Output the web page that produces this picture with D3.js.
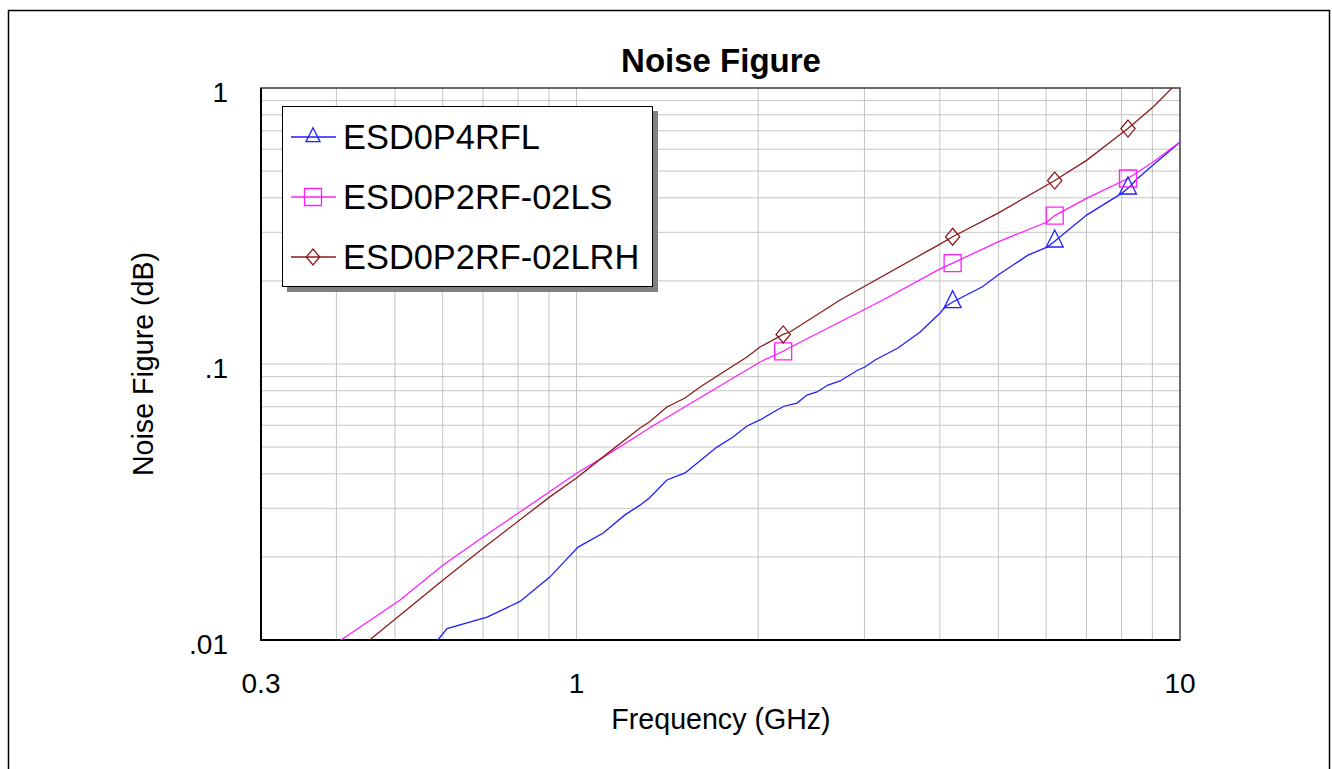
<!DOCTYPE html>
<html>
<head>
<meta charset="utf-8">
<script src="https://cdn.jsdelivr.net/npm/d3@7"></script>
<style>
  body { margin: 0; background: #fff; }
  svg text { font-family: "Liberation Sans", Arial, sans-serif; fill: #000; }
</style>
</head>
<body>
<svg id="chart" width="1332" height="769"></svg>
<script>
// series names / colours
var seriesNames = ["ESD0P4RFL", "ESD0P2RF-02LS", "ESD0P2RF-02LRH"];
var seriesColors = ["#1f1fff", "#ff1fff", "#8c1c1c"];
var seriesShapes = ["triangle", "square", "diamond"];

// frequency (GHz), noise figure (dB)
var esd0p4rflF = [0.589, 0.61, 0.711, 0.806, 0.903, 1.006, 1.107, 1.203, 1.274, 1.32, 1.412, 1.513, 1.709, 1.817, 1.916, 2.014, 2.149, 2.207, 2.319, 2.409, 2.503, 2.61, 2.733, 2.927, 3.006, 3.124, 3.409, 3.71, 4.003, 4.08, 4.2, 4.698, 4.995, 5.599, 6.021, 6.2, 7.011, 8.016, 8.2, 8.486, 9.024, 10];
var esd0p4rflV = [0.0100, 0.0110, 0.0121, 0.0138, 0.0169, 0.0217, 0.0244, 0.0284, 0.0308, 0.0327, 0.0380, 0.0403, 0.0500, 0.0544, 0.0596, 0.0627, 0.0681, 0.0703, 0.0722, 0.0772, 0.0792, 0.0839, 0.0868, 0.0951, 0.0975, 0.1034, 0.1143, 0.1306, 0.153, 0.1609, 0.1677, 0.190, 0.210, 0.248, 0.265, 0.2783, 0.347, 0.416, 0.433, 0.468, 0.526, 0.637];

var esd0p2lsF = [0.407, 0.51, 0.601, 0.7, 1.002, 1.102, 1.274, 1.32, 2.014, 2.2, 2.232, 3.219, 4.003, 4.2, 4.995, 6.021, 6.2, 7.011, 8.2, 9.024, 10];
var esd0p2lsV = [0.0100, 0.01396, 0.0187, 0.0236, 0.0403, 0.0456, 0.0558, 0.0586, 0.1017, 0.1112, 0.1133, 0.1705, 0.221, 0.232, 0.277, 0.327, 0.345, 0.399, 0.470, 0.539, 0.637];

var esd0p2lrhF = [0.454, 0.601, 0.7, 0.903, 1.0, 1.10, 1.274, 1.32, 1.412, 1.513, 1.602, 1.916, 2.014, 2.2, 2.258, 2.733, 4.003, 4.2, 4.995, 6.021, 6.2, 7.011, 8.016, 8.2, 9.024, 9.737];
var esd0p2lrhV = [0.0100, 0.0165, 0.0215, 0.0330, 0.0386, 0.0456, 0.0586, 0.0616, 0.0699, 0.0753, 0.0825, 0.1060, 0.1152, 0.1280, 0.1306, 0.1705, 0.272, 0.289, 0.352, 0.445, 0.462, 0.548, 0.687, 0.713, 0.853, 1.008];

// marker positions (every 2 GHz)
var markerF = [2.2, 4.2, 6.2, 8.2];

var xTicks = [0.3, 1, 10];
var xTickLabels = ["0.3", "1", "10"];
var yTicks = [1, 0.1, 0.01];
var yTickLabels = ["1", ".1", ".01"];
var xGrid = [0.4, 0.5, 0.6, 0.7, 0.8, 0.9, 1, 2, 3, 4, 5, 6, 7, 8, 9];
var yGrid = [0.02, 0.03, 0.04, 0.05, 0.06, 0.07, 0.08, 0.09, 0.1, 0.2, 0.3, 0.4, 0.5, 0.6, 0.7, 0.8, 0.9];

var allF = [esd0p4rflF, esd0p2lsF, esd0p2lrhF];
var allV = [esd0p4rflV, esd0p2lsV, esd0p2lrhV];

var svg = d3.select("#chart");
var L = 261, R = 1180, T = 88, B = 640;

var x = d3.scaleLog().domain([0.3, 10]).range([L, R]);
var y = d3.scaleLog().domain([0.01, 1]).range([B, T]);

// outer frame
svg.append("rect").attr("x", 8.5).attr("y", 10.5).attr("width", 1321).attr("height", 800)
	.attr("fill", "none").attr("stroke", "#000").attr("stroke-width", 1.5);

// grid
var grid = svg.append("g").attr("stroke", "#c4c4c4").attr("stroke-width", 1);
grid.selectAll(".gx").data(xGrid).enter().append("line")
	.attr("x1", d => x(d)).attr("x2", d => x(d)).attr("y1", T).attr("y2", B);
grid.selectAll(".gy").data(yGrid).enter().append("line")
	.attr("y1", d => y(d)).attr("y2", d => y(d)).attr("x1", L).attr("x2", R);

// frame of plot
svg.append("rect").attr("x", L).attr("y", T).attr("width", R - L).attr("height", B - T)
	.attr("fill", "none").attr("stroke", "#3a3a3a").attr("stroke-width", 1.5);
svg.append("path").attr("d", "M" + L + "," + T + "V" + B + "H" + R)
	.attr("fill", "none").attr("stroke", "#000").attr("stroke-width", 2);

svg.append("clipPath").attr("id", "clip").append("rect")
	.attr("x", L).attr("y", T).attr("width", R - L).attr("height", B - T);

var line = d3.line().x(d => x(d[0])).y(d => y(d[1]));

function markerPath(shape, s) {
	// s = nominal size in px
	if (shape == "triangle") {
		var h = s, w = s;
		return "M0," + (-2 * h / 3) + "L" + (w / 2) + "," + (h / 3) + "L" + (-w / 2) + "," + (h / 3) + "Z";
	}
	if (shape == "square") {
		return "M" + (-s / 2) + "," + (-s / 2) + "h" + s + "v" + s + "h" + (-s) + "Z";
	}
	var dx = s * 0.42, dy = s / 2;
	return "M0," + (-dy) + "L" + dx + ",0L0," + dy + "L" + (-dx) + ",0Z";
}

var plot = svg.append("g").attr("clip-path", "url(#clip)");
allF.forEach(function (fs, i) {
	var pts = fs.map((f, j) => [f, allV[i][j]]);
	plot.append("path").datum(pts).attr("d", line)
		.attr("fill", "none").attr("stroke", seriesColors[i]).attr("stroke-width", 1.3);
	var mk = pts.filter(p => markerF.indexOf(p[0]) >= 0);
	svg.selectAll(".m" + i).data(mk).enter().append("path")
		.attr("transform", d => "translate(" + x(d[0]) + "," + y(d[1]) + ")")
		.attr("d", markerPath(seriesShapes[i], 17))
		.attr("fill", "none").attr("stroke", seriesColors[i]).attr("stroke-width", 1.3);
});

// tick labels
svg.selectAll(".xl").data(xTicks).enter().append("text")
	.attr("x", d => x(d)).attr("y", 693).attr("text-anchor", "middle")
	.style("font-size", "28px").text((d, i) => xTickLabels[i]);
svg.selectAll(".yl").data(yTicks).enter().append("text")
	.attr("x", 228).attr("y", d => y(d) + 14).attr("text-anchor", "end")
	.style("font-size", "28px").text((d, i) => yTickLabels[i]);

// titles
svg.append("text").attr("x", 721).attr("y", 72).attr("text-anchor", "middle")
	.style("font-size", "33px").style("font-weight", "bold").text("Noise Figure");
svg.append("text").attr("x", 721).attr("y", 729).attr("text-anchor", "middle")
	.style("font-size", "28.6px").text("Frequency (GHz)");
svg.append("text").attr("transform", "translate(153,364) rotate(-90)").attr("text-anchor", "middle")
	.style("font-size", "28.6px").text("Noise Figure (dB)");

// legend
var lg = svg.append("g");
lg.append("rect").attr("x", 287).attr("y", 111).attr("width", 371).attr("height", 181).attr("fill", "#808080");
lg.append("rect").attr("x", 282.5).attr("y", 106.5).attr("width", 370).attr("height", 180)
	.attr("fill", "#fff").attr("stroke", "#000").attr("stroke-width", 1);
seriesNames.forEach(function (n, i) {
	var cy = 137 + i * 60;
	lg.append("line").attr("x1", 291).attr("x2", 336).attr("y1", cy).attr("y2", cy)
		.attr("stroke", seriesColors[i]).attr("stroke-width", 1.3);
	lg.append("path").attr("transform", "translate(313," + cy + ")")
		.attr("d", markerPath(seriesShapes[i], i == 0 ? 14 : (i == 1 ? 17 : 16)))
		.attr("fill", "none").attr("stroke", seriesColors[i]).attr("stroke-width", 1.3);
	lg.append("text").attr("x", 343).attr("y", cy + 12).style("font-size", "34.4px").text(n);
});
</script>
</body>
</html>
